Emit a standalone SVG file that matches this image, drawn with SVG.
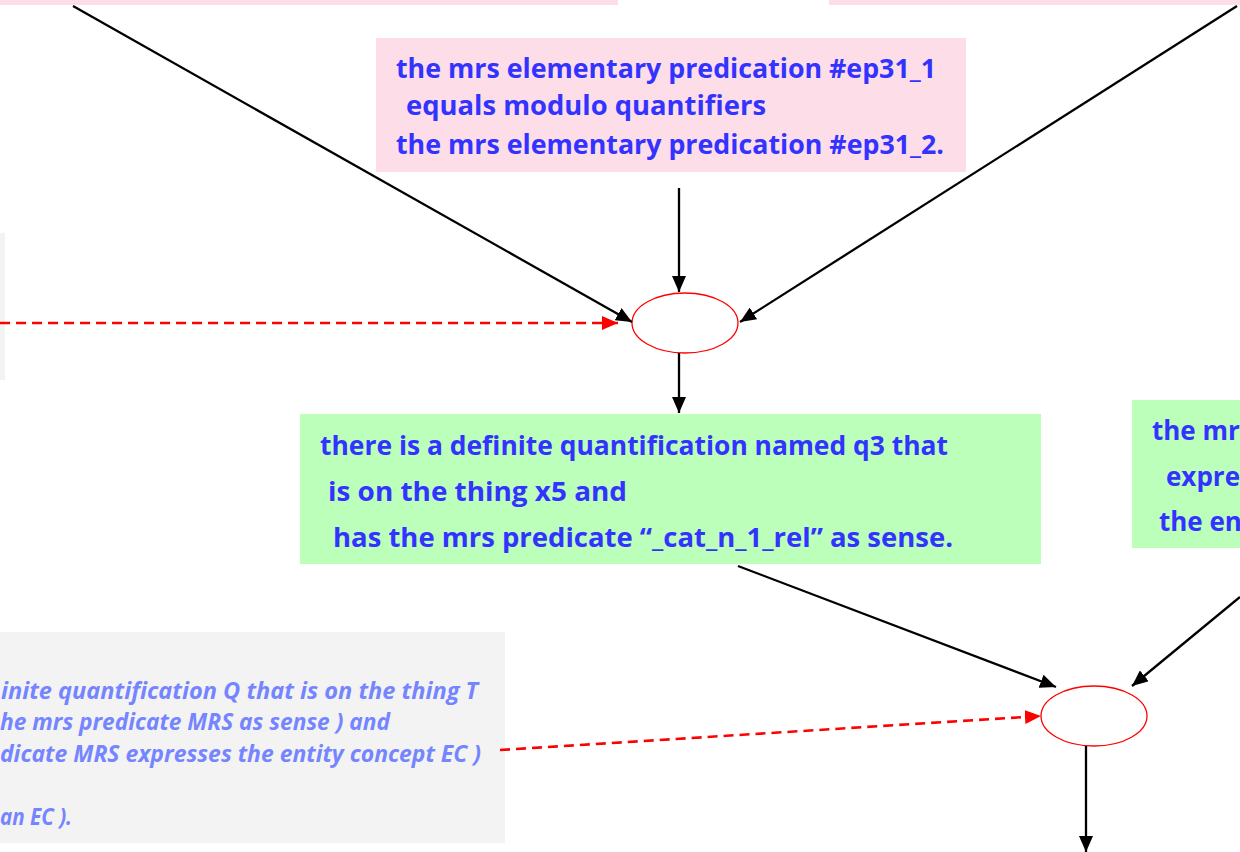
<svg xmlns="http://www.w3.org/2000/svg" width="1240" height="852" viewBox="0 0 1240 852">
<defs>
<style>
.pink{fill:#fddde8}
.green{fill:#bbffbb}
.gray{fill:#f3f3f3}
.t{font-family:"Open Sans","Noto Sans","Liberation Sans",sans-serif;font-weight:bold;fill:#3333ff}
.ti{font-family:"Open Sans","Noto Sans","Liberation Sans",sans-serif;font-weight:bold;font-style:italic;fill:#7585ff;font-size:24px}
.e{fill:#ffffff;stroke:#ff0000;stroke-width:1.3}
.c{stroke:#000;stroke-width:2.3;fill:none}
.d{stroke:#ff0000;stroke-width:2.6;fill:none;stroke-dasharray:10,6}
</style>
<marker id="ab" viewBox="0 0 16 14" refX="16" refY="7" markerWidth="16" markerHeight="14" markerUnits="userSpaceOnUse" orient="auto"><path d="M0,0L16,7L0,14z" fill="#000"/></marker>
<marker id="ar" viewBox="0 0 16 14" refX="16" refY="7" markerWidth="16" markerHeight="14" markerUnits="userSpaceOnUse" orient="auto"><path d="M0,0L16,7L0,14z" fill="#ff0000"/></marker>
</defs>
<rect width="1240" height="852" fill="#ffffff"/>
<g id="top-left"><rect class="pink" x="0" y="0" width="618" height="5"/></g>
<g id="top-right"><rect class="pink" x="829" y="0" width="411" height="5"/></g>
<g id="left-gray"><rect class="gray" x="0" y="233" width="5" height="147"/></g>
<g id="equals-box">
<rect class="pink" x="376" y="38" width="590" height="134"/>
<text class="t" font-size="26" x="396" y="78" textLength="540" lengthAdjust="spacingAndGlyphs">the mrs elementary predication #ep31_1</text>
<text class="t" font-size="26" x="406" y="115" textLength="360" lengthAdjust="spacingAndGlyphs">equals modulo quantifiers</text>
<text class="t" font-size="26" x="396" y="154" textLength="548" lengthAdjust="spacingAndGlyphs">the mrs elementary predication #ep31_2.</text>
</g>
<g id="join1"><ellipse class="e" cx="685" cy="323" rx="53" ry="30"/></g>
<g id="quant-box">
<rect class="green" x="300" y="414" width="741" height="150"/>
<text class="t" font-size="27" x="320" y="455" textLength="628" lengthAdjust="spacingAndGlyphs">there is a definite quantification named q3 that</text>
<text class="t" font-size="27" x="328" y="501" textLength="299" lengthAdjust="spacingAndGlyphs">is on the thing x5 and</text>
<text class="t" font-size="27" x="333" y="547" textLength="620" lengthAdjust="spacingAndGlyphs">has the mrs predicate “_cat_n_1_rel” as sense.</text>
</g>
<g id="expr-box">
<rect class="green" x="1132" y="400" width="108" height="148"/>
<text class="t" font-size="26" x="1152" y="440">the mr</text>
<text class="t" font-size="26" x="1166" y="486">expre</text>
<text class="t" font-size="26" x="1159" y="531">the en</text>
</g>
<g id="rule-box">
<rect class="gray" x="0" y="632" width="505" height="211"/>
<text class="ti" x="1" y="699" textLength="477" lengthAdjust="spacingAndGlyphs">inite quantification Q that is on the thing T</text>
<text class="ti" x="0" y="730" textLength="390" lengthAdjust="spacingAndGlyphs">he mrs predicate MRS as sense ) and</text>
<text class="ti" x="0" y="762" textLength="481" lengthAdjust="spacingAndGlyphs">dicate MRS expresses the entity concept EC )</text>
<text class="ti" x="0" y="825" textLength="72" lengthAdjust="spacingAndGlyphs">an EC ).</text>
</g>
<g id="join2"><ellipse class="e" cx="1094" cy="716" rx="53" ry="30"/></g>
<g id="connectors">
<line class="c" x1="73" y1="6" x2="632" y2="322" marker-end="url(#ab)"/>
<line class="c" x1="1237" y1="6" x2="740" y2="322" marker-end="url(#ab)"/>
<line class="c" x1="679" y1="188" x2="679" y2="292" marker-end="url(#ab)"/>
<line class="d" x1="0" y1="323" x2="618" y2="323" marker-end="url(#ar)"/>
<line class="c" x1="679" y1="353" x2="679" y2="413" marker-end="url(#ab)"/>
<line class="c" x1="738" y1="566" x2="1056" y2="687" marker-end="url(#ab)"/>
<line class="c" x1="1240" y1="597" x2="1132" y2="686" marker-end="url(#ab)"/>
<line class="d" x1="500" y1="750" x2="1041" y2="716" marker-end="url(#ar)"/>
<line class="c" x1="1086" y1="746" x2="1086" y2="852" marker-end="url(#ab)"/>
</g>
</svg>
